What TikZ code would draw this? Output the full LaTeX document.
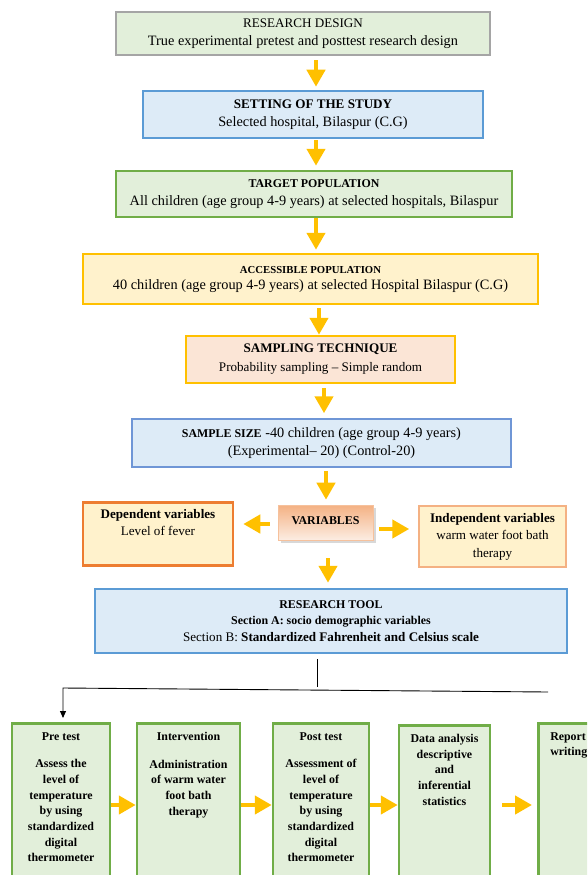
\documentclass[tikz,border=0pt]{standalone}
\usepackage{fontspec}
\setmainfont{Liberation Serif}
\usepackage{tikz}
\usetikzlibrary{positioning,arrows.meta,shadows}
\definecolor{designgray}{HTML}{A5A5A5}
\definecolor{palegreen}{HTML}{E2EFDA}
\definecolor{skyblue}{HTML}{5B9BD5}
\definecolor{paleblue}{HTML}{DDEBF7}
\definecolor{leafgreen}{HTML}{70AD47}
\definecolor{amber}{HTML}{FFC000}
\definecolor{paleyellow}{HTML}{FFF2CC}
\definecolor{peach}{HTML}{FBE5D6}
\definecolor{sizeblue}{HTML}{6F96D6}
\definecolor{deeporange}{HTML}{ED7D31}
\definecolor{softorange}{HTML}{F4B183}
\newcommand{\bodysize}{\fontsize{14.3}{18.5}\selectfont}
\newcommand{\midsize}{\fontsize{13.1}{17.5}\selectfont}
\newcommand{\smallsize}{\fontsize{11.9}{15.7}\selectfont}
\newcommand{\tinysize}{\fontsize{10.7}{14}\selectfont}
\newcommand{\toptext}[3]{\parbox[t][#1][t]{#2}{\centering #3}}

\begin{document}
\begin{tikzpicture}[x=1pt,y=-1pt]
  \tikzstyle{box}=[draw, line width=2.5pt, align=center, inner sep=2pt, font=\bodysize]
  \tikzstyle{stage}=[box, draw=leafgreen, fill=palegreen, anchor=north, inner xsep=5pt, inner ysep=9pt, font=\smallsize\bfseries]
  \tikzstyle{flow}=[draw=amber, line width=4.5pt, -{Triangle[width=18pt,length=17pt]}]
  \useasboundingbox (0,0) rectangle (587,875);
  \clip (0,0) rectangle (587,875);

  \node[box, draw=designgray, fill=palegreen, minimum width=374, minimum height=43] (design) at (303,33.5)
    {{\midsize RESEARCH DESIGN}\\True experimental pretest and posttest research design};
  \node[box, draw=skyblue, fill=paleblue, minimum width=340, minimum height=47] (setting) at (313,114.5)
    {{\midsize\bfseries SETTING OF THE STUDY}\\Selected hospital, Bilaspur (C.G)};
  \node[box, draw=leafgreen, fill=palegreen, minimum width=396, minimum height=46] (target) at (314,194)
    {{\smallsize\bfseries TARGET POPULATION}\\All children (age group 4-9 years) at selected hospitals, Bilaspur};
  \node[box, draw=amber, fill=paleyellow, minimum width=455, minimum height=50, font=\fontsize{14.3}{16}\selectfont] (access) at (310.5,279)
    {{\tinysize\bfseries ACCESSIBLE POPULATION}\\40 children (age group 4-9 years) at selected Hospital Bilaspur (C.G)};
  \node[box, draw=amber, fill=peach, minimum width=269, minimum height=47, font=\fontsize{13.1}{19}\selectfont] (sampling) at (320.5,359.5)
    {{\bfseries SAMPLING TECHNIQUE}\\Probability sampling -- Simple random};
  \node[box, draw=sizeblue, line width=1.5pt, fill=paleblue, minimum width=379, minimum height=48] (size) at (321.5,443)
    {{\smallsize\bfseries SAMPLE SIZE} -40 children (age group 4-9 years)\\(Experimental-- 20) (Control-20)};

  % variables row
  \node[draw=softorange!80, line width=0.6pt, top color=softorange, bottom color=peach!70,
    drop shadow={shadow xshift=2.5pt, shadow yshift=-2.5pt, fill=gray!60},
    minimum width=95, minimum height=35, font=\smallsize\bfseries] (vars) at (325.5,522.5)
    {\raisebox{4pt}{VARIABLES}};
  \node[box, draw=deeporange, fill=paleyellow, anchor=north, inner xsep=5pt, inner ysep=7pt, font=\midsize] (dep) at (158,501)
    {\toptext{49pt}{140pt}{\textbf{Dependent variables}\\Level of fever}};
  \node[box, draw=softorange, line width=1.5pt, fill=paleyellow, minimum width=147, minimum height=61,
    font=\fontsize{13.1}{17.5}\selectfont] (indep) at (492.5,536.5)
    {\textbf{Independent variables}\\warm water foot bath\\therapy};

  \node[box, draw=skyblue, fill=paleblue, minimum width=472, minimum height=64,
    font=\fontsize{13.1}{16.5}\selectfont] (tool) at (331,621)
    {{\smallsize\bfseries RESEARCH TOOL}\\{\smallsize\bfseries Section A: socio demographic variables}\\
     Section B: \textbf{Standardized Fahrenheit and Celsius scale}};

  % intervention stages
  \node[stage] (pre) at (61,722)
    {\toptext{180pt}{88pt}{Pre test\\[12pt]Assess the\\level of\\temperature\\by using\\standardized\\digital\\thermometer}};
  \node[stage] (inter) at (188.5,722)
    {\toptext{180pt}{93pt}{Intervention\\[12pt]Administration\\of warm water\\foot bath\\therapy}};
  \node[stage] (post) at (321,722)
    {\toptext{180pt}{86pt}{Post test\\[12pt]Assessment of\\level of\\temperature\\by using\\standardized\\digital\\thermometer}};
  \node[stage] (data) at (444.5,724)
    {\toptext{180pt}{81pt}{Data analysis\\descriptive\\and\\inferential\\statistics}};
  \node[stage, anchor=north west] (report) at (537,722)
    {\parbox[t][180pt][t]{70pt}{\hspace*{7pt}Report\\\hspace*{7pt}writing}};

  \coordinate (stemend) at (317,687);
  \coordinate (busL) at (63,688);
  \coordinate (busR) at (548,692);

  \draw[flow, shorten <=4pt, shorten >=3pt] (design.south -| 316,0) -- (setting.north -| 316,0);
  \draw[flow, shorten <=1pt, shorten >=4pt] (setting.south -| 316,0) -- (target.north -| 316,0);
  \draw[flow, shorten >=3pt] (target.south -| 316,0) -- (access.north -| 316,0);
  \draw[flow, shorten <=3pt] (access.south -| 319,0) -- (sampling.north -| 319,0);
  \draw[flow, shorten <=4pt, shorten >=5pt] (sampling.south -| 324,0) -- (size.north -| 324,0);
  \draw[flow, shorten <=3pt, shorten >=5pt] (size.south -| 326,0) -- (vars.north -| 326,0);
  \draw[flow, shorten <=8pt, shorten >=9pt] (vars.west |- 0,524) -- (dep.east |- 0,524);
  \draw[flow, shorten <=6pt, shorten >=9pt] (vars.east |- 0,529) -- (indep.west |- 0,529);
  \draw[flow, shorten <=18pt, shorten >=5pt] (vars.south -| 328,0) -- (tool.north -| 328,0);

  \draw[line width=0.9pt, shorten <=5pt] (tool.south -| stemend) -- (stemend);
  \draw[line width=0.9pt, -{Triangle[width=6pt,length=7pt]}, shorten >=4pt] (busR) -- (busL) -- (pre.north -| busL);

  \draw[flow] (pre.east |- 0,805) -- (inter.west |- 0,805);
  \draw[flow] (inter.east |- 0,805) -- (post.west |- 0,805);
  \draw[flow] (post.east |- 0,805) -- (data.west |- 0,805);
  \draw[flow, shorten <=11pt, shorten >=5pt] (data.east |- 0,805) -- (report.west |- 0,805);
\end{tikzpicture}
\end{document}
